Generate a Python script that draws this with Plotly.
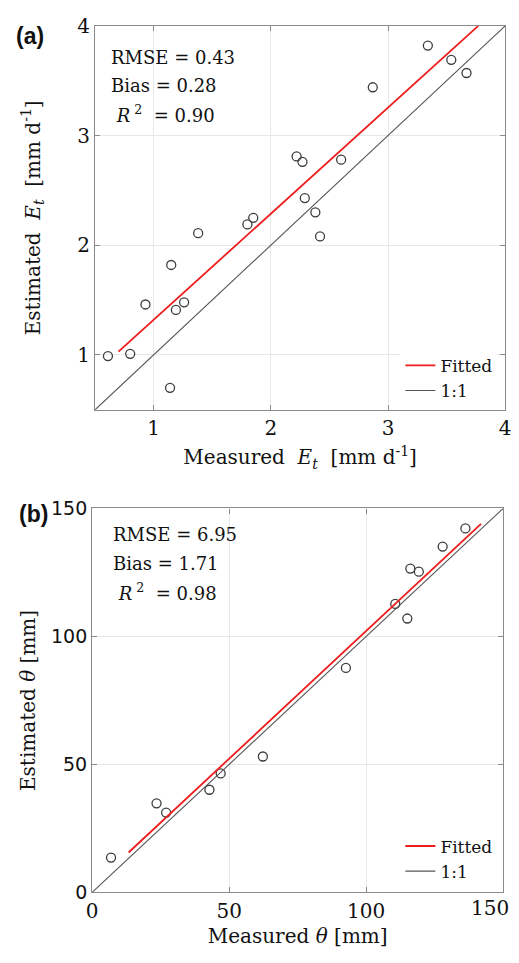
import plotly.graph_objects as go

# ---------------- Data: panel (a) transpiration ----------------
meas_et = [0.61, 0.80, 0.93, 1.19, 1.26, 1.14, 1.15, 1.38, 1.80, 1.85,
           2.22, 2.27, 2.60, 2.29, 2.38, 2.42, 2.87, 3.34, 3.54, 3.67]
est_et = [0.99, 1.01, 1.46, 1.41, 1.48, 0.70, 1.82, 2.11, 2.19, 2.25,
          2.81, 2.76, 2.78, 2.43, 2.30, 2.08, 3.44, 3.82, 3.69, 3.57]
fit_a_x = [0.70, 3.77]
fit_a_y = [1.03, 4.00]
one_a = [0.5, 4.0]
ticks_a = [1, 2, 3, 4]
stats_a = ["RMSE = 0.43", "Bias = 0.28", " <i>R</i><sup> 2</sup>  = 0.90"]

# ---------------- Data: panel (b) soil water ----------------
meas_th = [6.9, 23.5, 27.0, 42.8, 46.9, 62.3, 92.6, 115.0, 110.6, 116.1, 119.2, 127.9, 136.2]
est_th = [13.6, 34.8, 31.2, 40.1, 46.5, 53.1, 87.7, 107.0, 112.7, 126.5, 125.3, 135.1, 142.2]
fit_b_x = [13.3, 141.9]
fit_b_y = [15.6, 144.0]
one_b = [0, 150]
ticks_b = [0, 50, 100, 150]
ticktext_b = ["0", "50", "100", "150"]
stats_b = ["RMSE = 6.95", "Bias = 1.71", " <i>R</i><sup> 2</sup>  = 0.98"]

# page body has an 8px default margin: figure starts at (8, 8) and fills the rest of the window
OX, OY = 8, 8
W, H = 519 - OX, 963 - OY
SERIF = "DejaVu Serif"
SANS = "DejaVu Sans"
PT = "#3c3c3c"
FRAME = "#8a8a8a"
GRID = "#e8e8e8"


def px_x(p):
    return (p - OX) / W


def px_y(p):
    return 1 - (p - OY) / H


fig = go.Figure()

# panel a
fig.add_trace(go.Scatter(x=meas_et, y=est_et, mode="markers", showlegend=False,
                         marker=dict(symbol="circle-open", size=9, color=PT, line=dict(width=1.3, color=PT)),
                         xaxis="x", yaxis="y"))
fig.add_trace(go.Scatter(x=fit_a_x, y=fit_a_y, mode="lines", name="Fitted",
                         line=dict(color="#ee1c1c", width=1.8), xaxis="x", yaxis="y", legend="legend"))
fig.add_trace(go.Scatter(x=one_a, y=one_a, mode="lines", name="1:1",
                         line=dict(color="#555555", width=1.1), xaxis="x", yaxis="y", legend="legend"))

# panel b
fig.add_trace(go.Scatter(x=meas_th, y=est_th, mode="markers", showlegend=False,
                         marker=dict(symbol="circle-open", size=9, color=PT, line=dict(width=1.3, color=PT)),
                         xaxis="x2", yaxis="y2"))
fig.add_trace(go.Scatter(x=fit_b_x, y=fit_b_y, mode="lines", name="Fitted",
                         line=dict(color="#ee1c1c", width=1.8), xaxis="x2", yaxis="y2", legend="legend2"))
fig.add_trace(go.Scatter(x=one_b, y=one_b, mode="lines", name="1:1",
                         line=dict(color="#555555", width=1.1), xaxis="x2", yaxis="y2", legend="legend2"))

common = dict(showline=True, linecolor=FRAME, linewidth=1.2, mirror="allticks",
              ticks="inside", ticklen=5, tickcolor=FRAME, showgrid=True, gridcolor=GRID,
              gridwidth=1, zeroline=False,
              tickfont=dict(family=SERIF, size=20, color="#111"),
              title_font=dict(family=SERIF, size=20, color="#111"))

fig.update_layout(
    width=W, height=H, margin=dict(l=0, r=0, t=0, b=0),
    paper_bgcolor="white", plot_bgcolor="white",
    xaxis=dict(domain=[px_x(91), px_x(511)], anchor="y", range=[0.5, 4], tickvals=ticks_a,
               title=dict(text="Measured  <i>E</i><sub><i>t</i></sub>  [mm d<sup>-1</sup>]", standoff=11),
               **common),
    yaxis=dict(domain=[px_y(408), px_y(15)], anchor="x", range=[0.5, 4], tickvals=ticks_a,
               title=dict(text="Estimated  <i>E</i><sub><i>t</i></sub>  [mm d<sup>-1</sup>]", standoff=31),
               **common),
    # last x tick label of panel b sits at the window edge: drawn as an annotation shifted inwards
    xaxis2=dict(domain=[px_x(88), px_x(509)], anchor="y2", range=[0, 150], tickvals=ticks_b,
                ticktext=ticktext_b[:-1] + [""],
                title=dict(text="Measured <i>θ</i> [mm]", standoff=7), **common),
    yaxis2=dict(domain=[px_y(902), px_y(509)], anchor="x2", range=[0, 150], tickvals=ticks_b,
                title=dict(text="Estimated <i>θ</i> [mm]", standoff=9), **common),
    legend=dict(x=px_x(503), y=px_y(407), xanchor="right", yanchor="bottom",
                bgcolor="white", borderwidth=0, font=dict(family=SERIF, size=17, color="#111"),
                itemwidth=30, tracegroupgap=0),
    legend2=dict(x=px_x(503), y=px_y(899), xanchor="right", yanchor="bottom",
                 bgcolor="rgba(0,0,0,0)", borderwidth=0, font=dict(family=SERIF, size=17, color="#111"),
                 itemwidth=30, tracegroupgap=0),
)
fig.update_yaxes(tickfont=dict(family=SANS, size=19, color="#111"), selector=dict(anchor="x2"))

ann = []
for i, t in enumerate(stats_a):
    ann.append(dict(text=t, x=px_x(105), y=px_y(47 + 29 * i), xref="paper", yref="paper",
                    xanchor="left", yanchor="middle", showarrow=False,
                    font=dict(family=SERIF, size=18, color="#111")))
for i, t in enumerate(stats_b):
    ann.append(dict(text=t, x=px_x(107), y=px_y(536 + 29.5 * i), xref="paper", yref="paper",
                    xanchor="left", yanchor="middle", showarrow=False,
                    font=dict(family=SERIF, size=18, color="#111")))
ann.append(dict(text=ticktext_b[-1], x=ticks_b[-1], y=ticks_b[0], xref="x2", yref="y2",
                xanchor="right", yanchor="top", xshift=8, yshift=-2, showarrow=False,
                font=dict(family=SERIF, size=20, color="#111")))
ann.append(dict(text="<b>(a)</b>", x=px_x(8), y=px_y(25), xref="paper", yref="paper",
                xanchor="left", yanchor="middle", showarrow=False,
                font=dict(family="Liberation Sans", size=23, color="#111")))
ann.append(dict(text="<b>(b)</b>", x=px_x(11), y=px_y(515), xref="paper", yref="paper",
                xanchor="left", yanchor="middle", showarrow=False,
                font=dict(family="Liberation Sans", size=23, color="#111")))
fig.update_layout(annotations=ann)

fig.write_html("out.html")
